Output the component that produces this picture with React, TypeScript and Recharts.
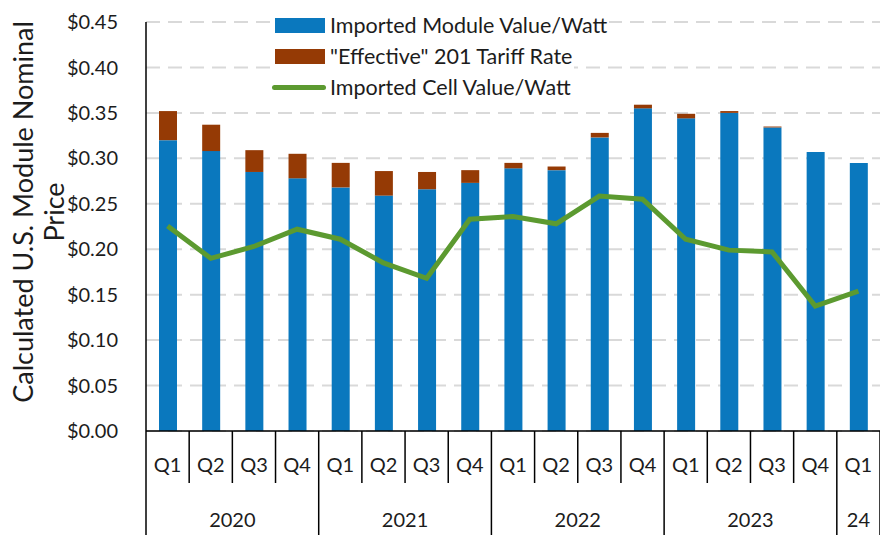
import React from "react"
import {
    ComposedChart,
    Bar,
    Line,
    XAxis,
    YAxis,
    CartesianGrid,
    Label,
} from "recharts"

document.body.style.margin = "0"

const quarters = ["Q1", "Q2", "Q3", "Q4", "Q1", "Q2", "Q3", "Q4", "Q1", "Q2", "Q3", "Q4", "Q1", "Q2", "Q3", "Q4", "Q1"]
const years = ["2020", "2020", "2020", "2020", "2021", "2021", "2021", "2021", "2022", "2022", "2022", "2022", "2023", "2023", "2023", "2023", "24"]
const moduleValue = [0.32, 0.308, 0.285, 0.278, 0.268, 0.259, 0.266, 0.273, 0.289, 0.287, 0.323, 0.355, 0.344, 0.35, 0.334, 0.307, 0.295]
const tariffRate = [0.032, 0.029, 0.024, 0.027, 0.027, 0.027, 0.019, 0.014, 0.006, 0.004, 0.005, 0.004, 0.005, 0.002, 0.001, 0, 0]
const cellValue = [0.2255, 0.19, 0.203, 0.222, 0.211, 0.185, 0.168, 0.233, 0.236, 0.228, 0.2585, 0.255, 0.211, 0.199, 0.197, 0.1375, 0.154]
const yTicks = [0, 0.05, 0.1, 0.15, 0.2, 0.25, 0.3, 0.35, 0.4, 0.45]

const BLUE = "#0A78BE"
const BROWN = "#953A05"
const GREEN = "#5C9A30"
const TEXT = "#1c1c1c"
const FONT = "Lato, 'Open Sans', sans-serif"

const WIDTH = 880
const HEIGHT = 535
const Y_AXIS_W = 146
const BAND = (WIDTH - Y_AXIS_W) / quarters.length

const data = quarters.map((q, i) => ({
    key: `${years[i]}-${q}`,
    quarter: q,
    year: years[i],
    module: moduleValue[i],
    tariff: tariffRate[i],
    cell: cellValue[i],
}))

function QuarterTick(props: any) {
    const { x, y, index } = props
    const half = BAND / 2
    const d = data[index]
    const next = data[index + 1]
    const yearEnd = !next || next.year !== d.year
    const first = index === 0 || data[index - 1].year !== d.year
    let span = 0
    if (first) {
        while (data[index + span] && data[index + span].year === d.year) span++
    }
    return (
        <g>
            <text x={x} y={y + 41} textAnchor="middle" fontSize={20} fill={TEXT} fontFamily={FONT}>
                {d.quarter}
            </text>
            {index === 0 && <line x1={x - half} x2={x - half} y1={y} y2={HEIGHT} stroke="#000" strokeWidth={1.5} />}
            <line x1={x + half} x2={x + half} y1={y} y2={yearEnd ? HEIGHT : y + 52} stroke="#000" strokeWidth={1.5} />
            {first && (
                <text x={x - half + (span * BAND) / 2} y={y + 96} textAnchor="middle" fontSize={20} fill={TEXT} fontFamily={FONT}>
                    {d.year}
                </text>
            )}
        </g>
    )
}

function AxisTitle() {
    const cy = 212
    return (
        <g fontFamily={FONT} fill={TEXT} fontSize={27}>
            <text x={22} y={cy} textAnchor="middle" dominantBaseline="central" transform={`rotate(-90 22 ${cy})`}>
                Calculated U.S. Module Nominal
            </text>
            <text x={53} y={cy} textAnchor="middle" dominantBaseline="central" transform={`rotate(-90 53 ${cy})`}>
                Price
            </text>
        </g>
    )
}

const legendItems = [
    { label: "Imported Module Value/Watt", color: BLUE, kind: "rect" },
    { label: "\"Effective\" 201 Tariff Rate", color: BROWN, kind: "rect" },
    { label: "Imported Cell Value/Watt", color: GREEN, kind: "line" },
]

// legend drawn as an overlay so it doesn't eat into the plot area
function ChartLegend() {
    return (
        <div style={{ position: "absolute", top: 10, left: 272, fontFamily: FONT, fontSize: 21.5, color: TEXT }}>
            {legendItems.map(item => (
                <div key={item.label} style={{ display: "flex", alignItems: "center", height: 31, background: "#fff", width: "fit-content", paddingRight: 2 }}>
                    {item.kind === "rect" ? (
                        <div style={{ width: 50, height: 15, background: item.color, marginLeft: 3, marginRight: 5 }} />
                    ) : (
                        <div style={{ width: 54, height: 5, borderRadius: 3, background: item.color, marginRight: 4 }} />
                    )}
                    <span style={{ lineHeight: 1, whiteSpace: "nowrap" }}>{item.label}</span>
                </div>
            ))}
        </div>
    )
}

export default function App() {
    return (
        <div style={{ position: "relative", width: WIDTH, height: HEIGHT, overflow: "hidden", background: "#fff" }}>
            <ComposedChart width={WIDTH} height={HEIGHT} data={data} margin={{ top: 22, right: 0, left: 0, bottom: 0 }} barSize={18}>
                <CartesianGrid horizontal vertical={false} stroke="#d9d9d9" strokeWidth={2} strokeDasharray="14 8" />
                <XAxis
                    dataKey="key"
                    interval={0}
                    height={104}
                    tickSize={0}
                    tickMargin={0}
                    tickLine={false}
                    axisLine={{ stroke: "#000", strokeWidth: 1.5 }}
                    tick={<QuarterTick />}
                />
                <YAxis
                    domain={[0, 0.45]}
                    ticks={yTicks}
                    width={Y_AXIS_W}
                    tickSize={0}
                    tickMargin={28}
                    tickLine={false}
                    axisLine={{ stroke: "#000", strokeWidth: 1.5 }}
                    tickFormatter={(v: number) => `$${v.toFixed(2)}`}
                    tick={{ fontSize: 20, fill: TEXT, fontFamily: FONT }}
                >
                    <Label content={<AxisTitle />} />
                </YAxis>
                <Bar dataKey="module" stackId="a" fill={BLUE} isAnimationActive={false} />
                <Bar dataKey="tariff" stackId="a" fill={BROWN} isAnimationActive={false} />
                <Line dataKey="cell" type="linear" stroke={GREEN} strokeWidth={5} dot={false} isAnimationActive={false} />
            </ComposedChart>
            <ChartLegend />
        </div>
    )
}
